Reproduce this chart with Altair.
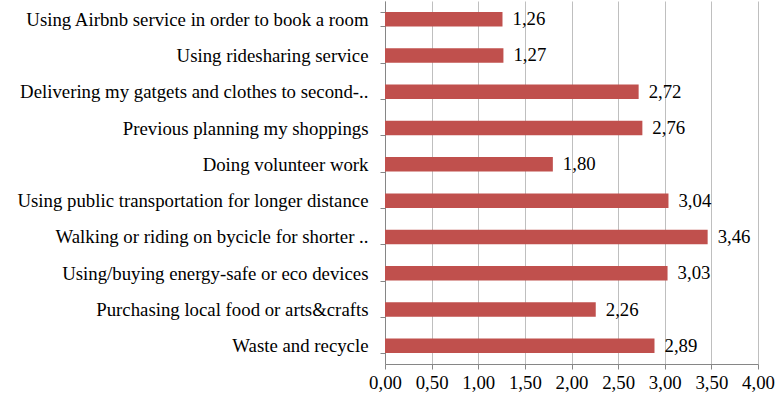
import altair as alt
import pandas as pd

categories = [
    "Using Airbnb service in order to book a room",
    "Using ridesharing service",
    "Delivering my gatgets and clothes to second-..",
    "Previous planning my shoppings",
    "Doing volunteer work",
    "Using public transportation for longer distance",
    "Walking or riding on bycicle for shorter ..",
    "Using/buying energy-safe or eco devices",
    "Purchasing local food or arts&crafts",
    "Waste and recycle",
]
values = [1.26, 1.27, 2.72, 2.76, 1.80, 3.04, 3.46, 3.03, 2.26, 2.89]

df = pd.DataFrame({"cat": categories, "val": values})
FONT = "Liberation Serif"
FS = 18.8

base = alt.Chart(df).encode(
    y=alt.Y("cat:N", sort=categories, title=None,
            scale=alt.Scale(paddingInner=0.6, paddingOuter=0.3),
            axis=alt.Axis(tickBand="extent", grid=False, domainColor="#868686",
                          tickColor="#868686", tickSize=5, labelPadding=12,
                          labelFont=FONT, labelFontSize=FS, labelColor="black",
                          labelLimit=400)),
)

bars = base.mark_bar(color="#C0504D").encode(
    x=alt.X("val:Q", title=None,
            scale=alt.Scale(domain=[0, 4], nice=False),
            axis=alt.Axis(values=[0, 0.5, 1, 1.5, 2, 2.5, 3, 3.5, 4],
                          labelExpr="replace(format(datum.value,'.2f'),'.',',')",
                          grid=True, gridColor="#BFBFBF", domainColor="#868686",
                          tickColor="#868686", tickSize=5, labelPadding=4,
                          labelFont=FONT, labelFontSize=FS, labelColor="black",
                          labelFlush=False)),
)

labels = base.transform_calculate(
    lab="replace(format(datum.val,'.2f'),'.',',')"
).mark_text(align="left", baseline="middle", dx=10, font=FONT, fontSize=FS,
            color="black").encode(
    x=alt.X("val:Q"),
    text="lab:N",
)

chart = (bars + labels).properties(
    width=373, height=363,
    autosize=alt.AutoSizeParams(type="none"),
    padding={"left": 385, "top": 1, "right": 17, "bottom": 37},
).configure_view(stroke=None)

chart.save("out.html", embed_options={"renderer": "svg", "actions": False})
